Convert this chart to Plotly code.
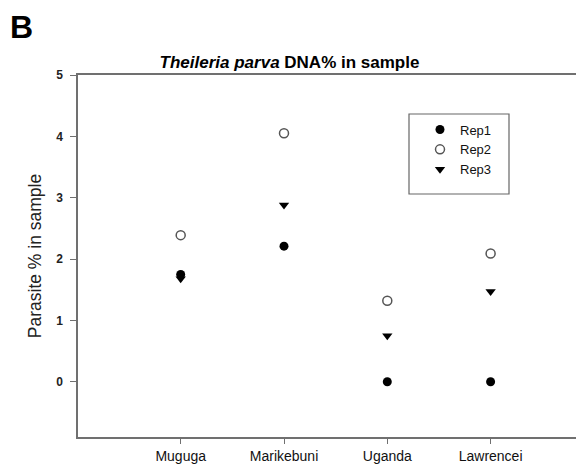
import plotly.graph_objects as go

categories = ["Muguga", "Marikebuni", "Uganda", "Lawrencei"]
rep1 = [1.75, 2.21, 0.0, 0.0]
rep2 = [2.39, 4.05, 1.32, 2.09]
rep3 = [1.68, 2.88, 0.75, 1.47]
y_ticks = [0, 1, 2, 3, 4, 5]

FONT = "Liberation Sans, Arial, sans-serif"

fig = go.Figure()
fig.add_trace(go.Scatter(x=categories, y=rep1, mode="markers", name="Rep1",
                         marker=dict(symbol="circle", size=9, color="black")))
fig.add_trace(go.Scatter(x=categories, y=rep2, mode="markers", name="Rep2",
                         marker=dict(symbol="circle-open", size=9, color="#555555",
                                     line=dict(width=1.5))))
fig.add_trace(go.Scatter(x=categories, y=rep3, mode="markers", name="Rep3",
                         marker=dict(symbol="triangle-down", size=9, color="black")))

# page body has an 8px margin: layout coordinates are offset accordingly
W, H = 576, 458
L, T, B = 70, 67, 29
PW, PH = W - L, H - T - B

fig.update_layout(
    width=W, height=H,
    margin=dict(l=L, r=0, t=T, b=B, autoexpand=False),
    paper_bgcolor="white", plot_bgcolor="white",
    title=dict(text="<b><i>Theileria parva</i> DNA% in sample</b>",
               x=281.5 / W, xanchor="center", y=1 - 54 / H, yanchor="middle",
               font=dict(family=FONT, size=17, color="black")),
    showlegend=True,
    legend=dict(x=(412 - L) / PW, y=(H - B - 106.5) / PH, xanchor="left", yanchor="top",
                bgcolor="rgba(0,0,0,0)", borderwidth=0,
                font=dict(family=FONT, size=13, color="#111111"),
                itemwidth=30, tracegroupgap=0),
    xaxis=dict(type="category", range=[-0.994, 3.904], showline=True, mirror=True,
               linecolor="#707070", linewidth=1.5, ticks="outside", ticklen=5,
               tickcolor="#707070", showgrid=False, zeroline=False,
               tickfont=dict(family=FONT, size=14, color="#111111")),
    yaxis=dict(range=[-0.9, 5], tickvals=y_ticks, showline=True, linecolor="#707070",
               linewidth=1.5, ticks="outside", ticklen=6, tickcolor="#707070",
               ticklabelstandoff=5, showgrid=False, zeroline=False,
               tickfont=dict(family=FONT, size=12, color="#222222", weight="bold"),
               title=dict(text="Parasite % in sample", standoff=10,
                          font=dict(family=FONT, size=17.5, color="#222222"))),
    font=dict(family=FONT, color="#222222"),
)
# legend frame
fig.add_shape(type="rect", xref="paper", yref="paper",
              x0=(401 - L) / PW, x1=(501 - L) / PW,
              y0=(H - B - 186) / PH, y1=(H - B - 106) / PH,
              line=dict(color="#666666", width=1.2), fillcolor="rgba(0,0,0,0)", layer="above")
fig.add_annotation(text="<b>B</b>", xref="paper", yref="paper",
                   x=(13 - L) / PW, y=(H - B - 19) / PH, xanchor="center", yanchor="middle",
                   showarrow=False, font=dict(family=FONT, size=32, color="black"))

fig.write_html("out.html")
